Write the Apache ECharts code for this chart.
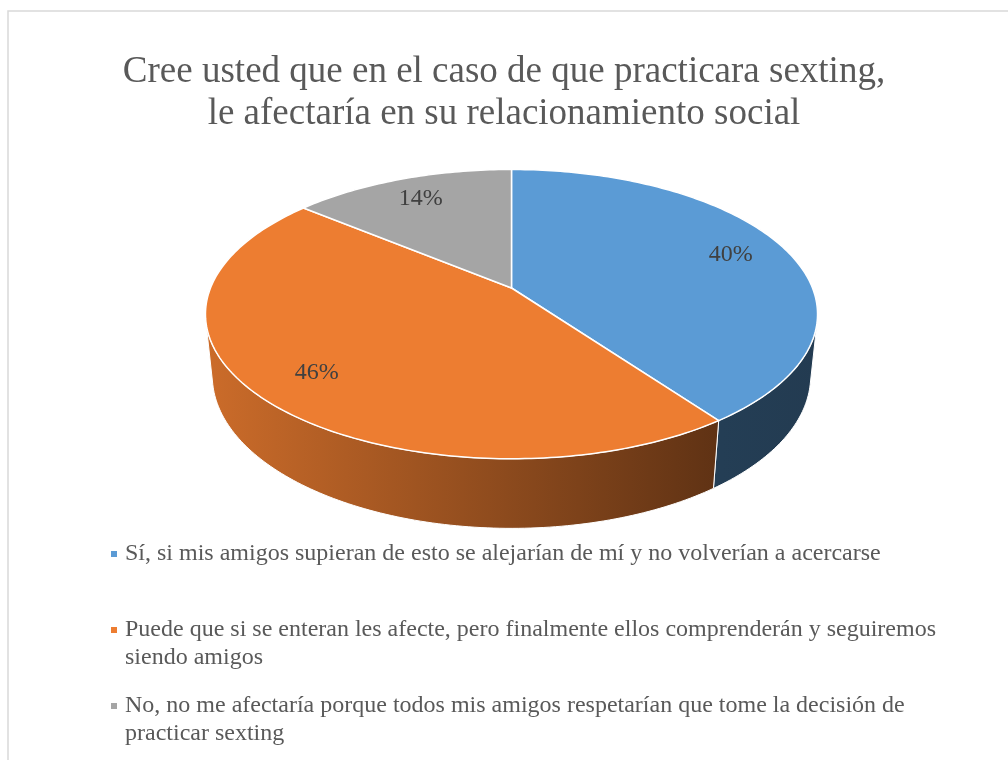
<!DOCTYPE html>
<html>
<head>
<meta charset="utf-8">
<title>Sexting y relacionamiento social</title>
<script src="https://cdn.jsdelivr.net/npm/echarts@6/dist/echarts.min.js"></script>
<style>
  html, body { margin: 0; padding: 0; background: #fff; }
  #chart { width: 1008px; height: 760px; }
</style>
</head>
<body>
<div id="chart"></div>
<script>
// datos del gráfico
const categories = [
  'Sí, si mis amigos supieran de esto se alejarían de mí y no volverían a acercarse',
  'Puede que si se enteran les afecte, pero finalmente ellos comprenderán y seguiremos siendo amigos',
  'No, no me afectaría porque todos mis amigos respetarían que tome la decisión de practicar sexting'
];
const shares = [40, 46, 14];
const colors = ['#5b9bd5', '#ed7d31', '#a5a5a5'];

const SERIF = '"Liberation Serif", "Times New Roman", serif';
const LEGEND_FONT = '24px ' + SERIF;

// geometria del pastel 3D (perspectiva sencilla)
const PIE = {
  cx: 511.5,
  cy: 288,
  scale: 301,
  persp: 0.204,
  tilt: 27.7 * Math.PI / 180,
  depth: 0.234,
  labelR: 0.8
};

// theta en grados, en sentido horario desde el lado lejano
function project(theta, r, z) {
  const t = theta * Math.PI / 180;
  const X = r * Math.sin(t), Y = r * Math.cos(t);
  const ca = Math.cos(PIE.tilt), sa = Math.sin(PIE.tilt);
  const den = 1 + PIE.persp * (Y * ca - z * sa);
  return [PIE.cx + PIE.scale * X / den, PIE.cy - PIE.scale * (Y * sa + z * ca) / den];
}

function shade(hex, f) {
  const n = parseInt(hex.slice(1), 16);
  const r = Math.round(((n >> 16) & 255) * f);
  const g = Math.round(((n >> 8) & 255) * f);
  const b = Math.round((n & 255) * f);
  return 'rgb(' + r + ',' + g + ',' + b + ')';
}

function arc(a, b, z) {
  const pts = [];
  const steps = Math.max(2, Math.ceil(Math.abs(b - a)));
  for (let k = 0; k <= steps; k++) {
    pts.push(project(a + (b - a) * k / steps, 1, z));
  }
  return pts;
}

// corta el texto por palabras para que no quede un espacio al inicio de linea
const measure = document.createElement('canvas').getContext('2d');
function wrap(text, font, maxWidth) {
  measure.font = font;
  const lines = [];
  let line = '';
  text.split(' ').forEach(w => {
    const next = line ? line + ' ' + w : w;
    if (line && measure.measureText(next).width > maxWidth) {
      lines.push(line);
      line = w;
    } else {
      line = next;
    }
  });
  if (line) lines.push(line);
  return lines.join('\n');
}

const total = shares.reduce((s, v) => s + v, 0);
// parte visible de la pared lateral
const wallFrom = Math.acos(-PIE.persp / Math.cos(PIE.tilt)) * 180 / Math.PI;
const wallTo = 360 - wallFrom;

function renderSlice(params, api) {
  const i = params.dataIndex;
  const v = api.value(0);
  let before = 0;
  for (let k = 0; k < i; k++) before += shares[k];
  const a = 360 * before / total;
  const b = 360 * (before + v) / total;
  const color = colors[i];
  const children = [];

  // pared lateral
  const wa = Math.max(a, wallFrom), wb = Math.min(b, wallTo);
  if (wb > wa) {
    const top = arc(wa, wb, 0);
    const bottom = arc(wa, wb, -PIE.depth).reverse();
    const left = PIE.cx - PIE.scale * 1.02, right = PIE.cx + PIE.scale * 1.02;
    children.push({
      type: 'polygon',
      z2: 1,
      shape: { points: top.concat(bottom) },
      style: {
        fill: new echarts.graphic.LinearGradient(left, 0, right, 0, [
          { offset: 0, color: shade(color, 0.86) },
          { offset: 0.84, color: shade(color, 0.40) },
          { offset: 1, color: shade(color, 0.38) }
        ], true),
        stroke: '#fff',
        lineWidth: 1
      }
    });
  }

  // cara superior
  children.push({
    type: 'polygon',
    z2: 10,
    shape: { points: [project(0, 0, 0)].concat(arc(a, b, 0)) },
    style: { fill: color, stroke: '#fff', lineWidth: 1.5, lineJoin: 'round' }
  });

  // etiqueta
  const p = project((a + b) / 2, PIE.labelR, 0);
  children.push({
    type: 'text',
    z2: 20,
    x: p[0],
    y: p[1],
    style: {
      text: Math.round(100 * v / total) + '%',
      fill: '#404040',
      font: '24px ' + SERIF,
      align: 'center',
      verticalAlign: 'middle'
    }
  });

  return { type: 'group', children: children };
}

// leyenda como texto con ajuste de linea
const legendItems = [];
categories.forEach((name, i) => {
  const y = 554 + 76 * i;
  legendItems.push({
    type: 'rect',
    shape: { x: 111, y: y - 3, width: 6, height: 6 },
    style: { fill: colors[i] }
  });
  legendItems.push({
    type: 'text',
    x: 125,
    y: y - 14,
    style: {
      text: wrap(name, LEGEND_FONT, 840),
      lineHeight: 28,
      font: LEGEND_FONT,
      fill: '#595959'
    }
  });
});

const chart = echarts.init(document.getElementById('chart'), null, { renderer: 'canvas' });
chart.setOption({
  backgroundColor: '#fff',
  animation: false,
  title: {
    text: 'Cree usted que en el caso de que practicara sexting,\nle afectaría en su relacionamiento social',
    left: 'center',
    top: 46,
    textStyle: {
      fontFamily: SERIF,
      fontSize: 37,
      fontWeight: 'normal',
      color: '#595959',
      lineHeight: 42
    }
  },
  graphic: [
    {
      type: 'rect',
      shape: { x: 8, y: 11, width: 1200, height: 900 },
      style: { fill: 'none', stroke: '#d9d9d9', lineWidth: 1.5 },
      silent: true
    }
  ].concat(legendItems),
  series: [
    {
      type: 'custom',
      coordinateSystem: 'none',
      renderItem: renderSlice,
      data: shares.map((v, i) => ({ name: categories[i], value: [v] }))
    }
  ]
});
</script>
</body>
</html>
